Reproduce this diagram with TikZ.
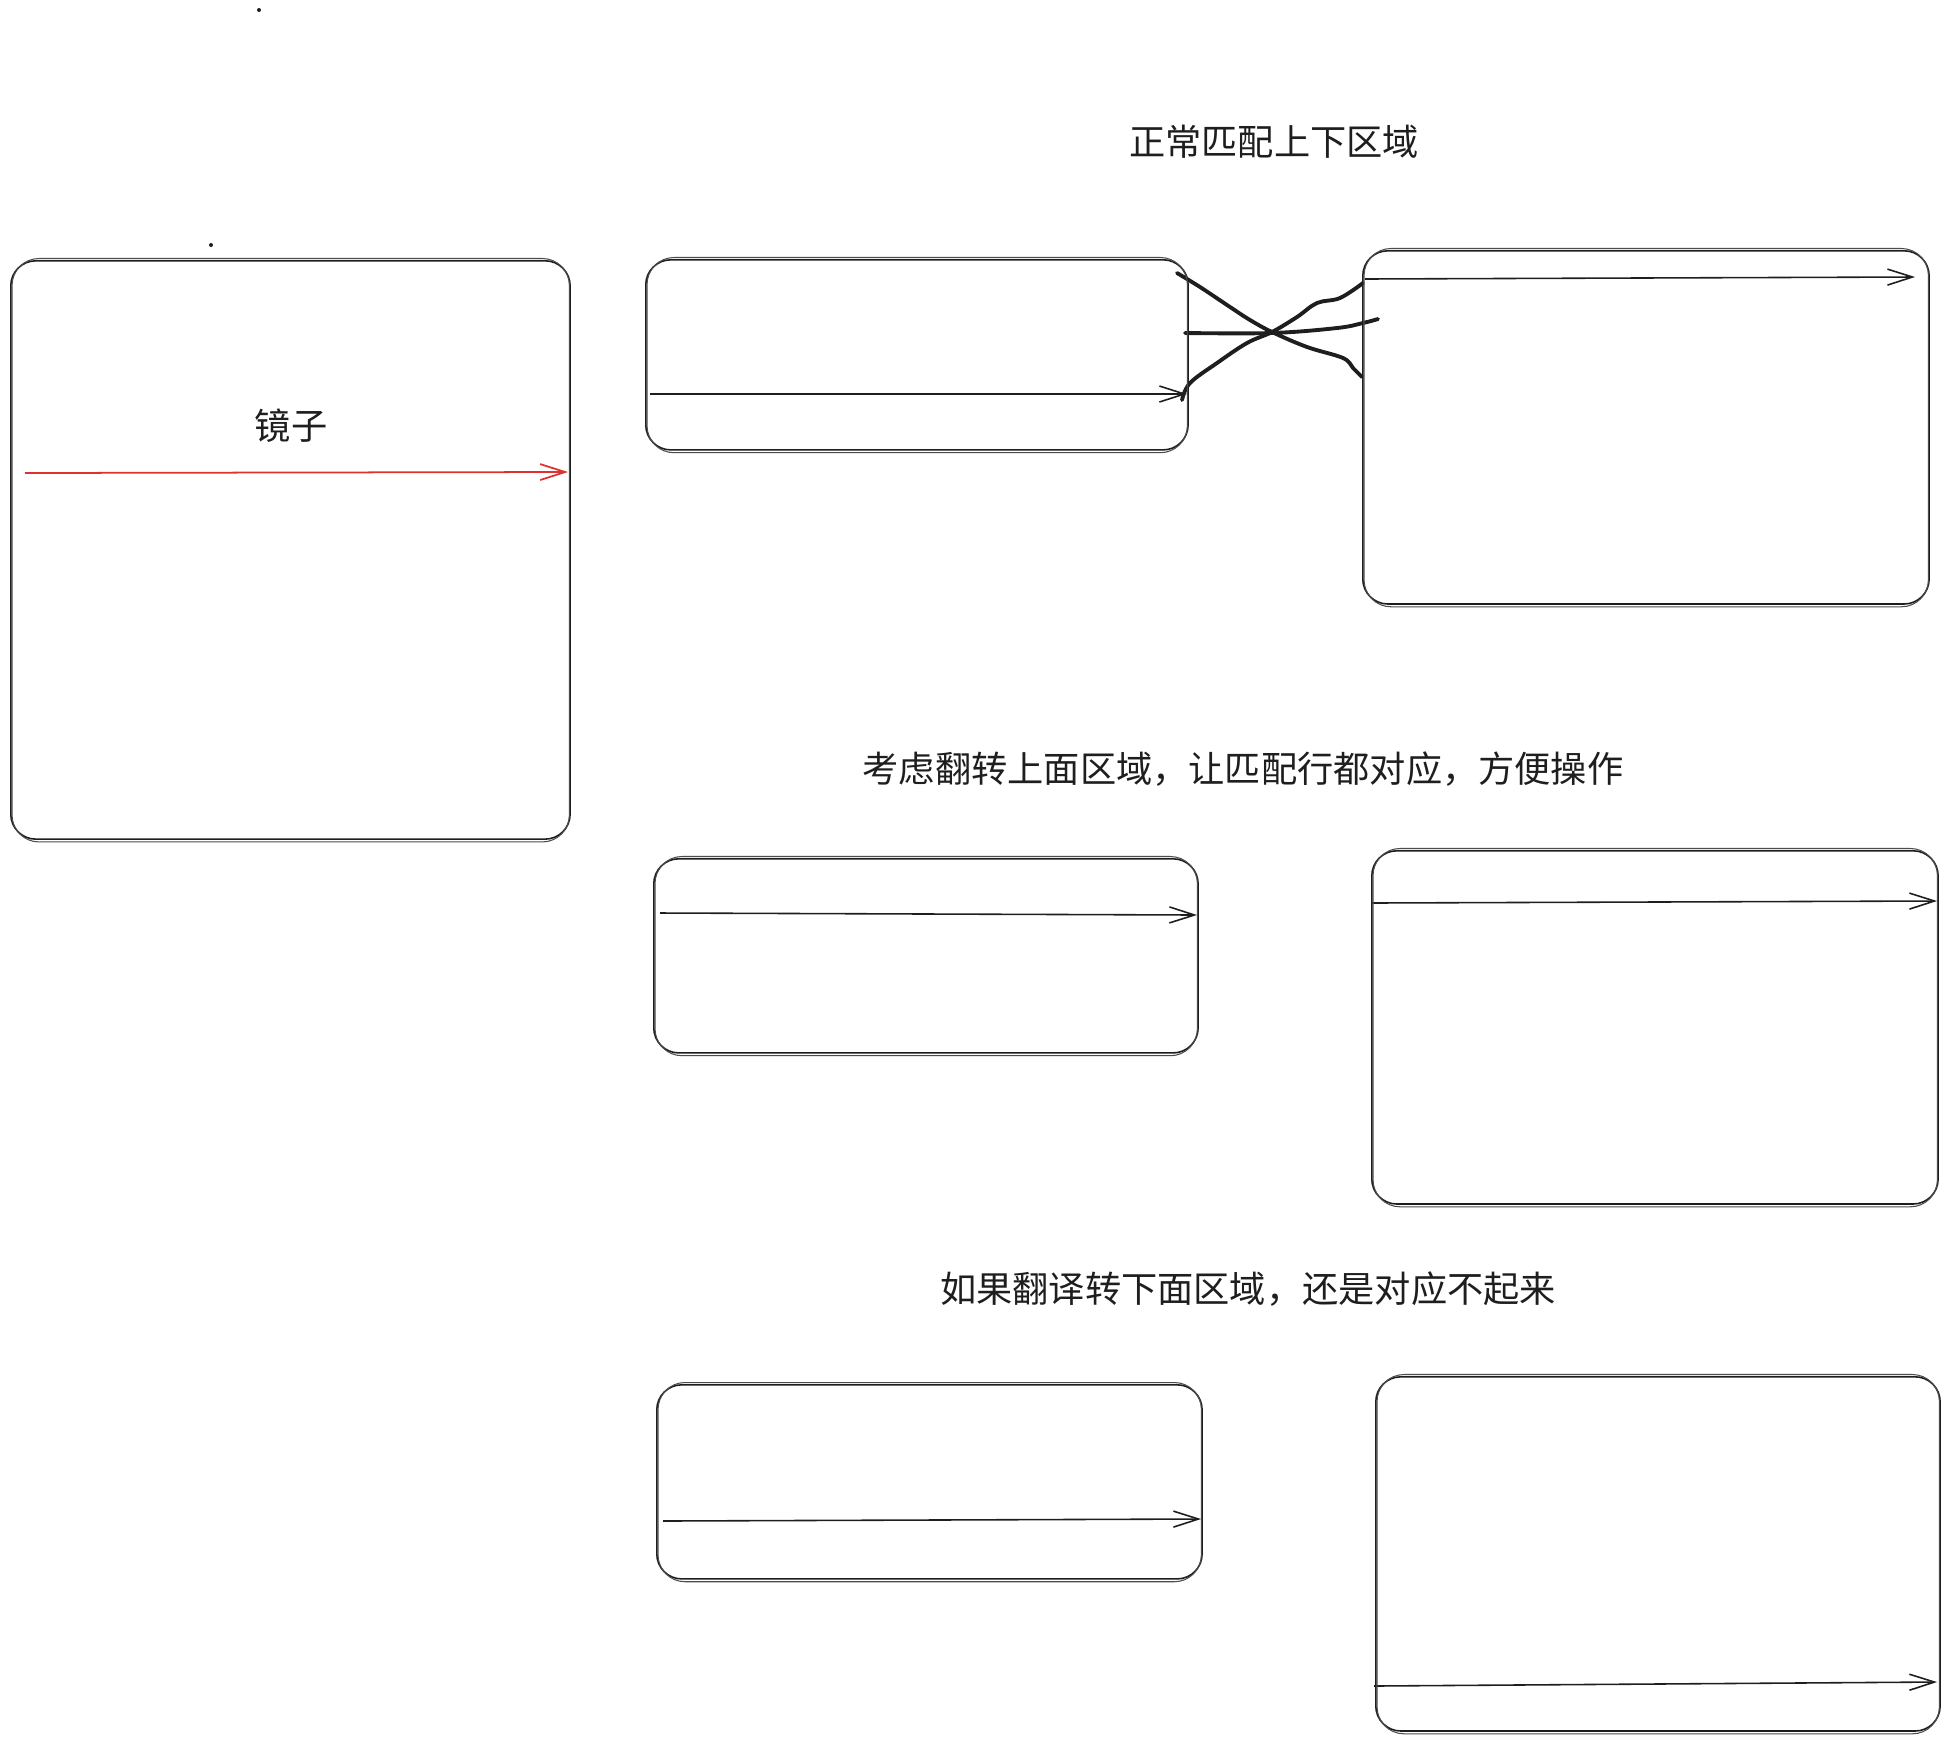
\documentclass[tikz,border=0pt]{standalone}
\usepackage{fontspec}
\newfontfamily\cjk{Noto Sans CJK SC}
\usetikzlibrary{arrows.meta}
\definecolor{ink}{HTML}{1E1E1E}
\definecolor{mirror}{HTML}{E03131}

\begin{document}
\begin{tikzpicture}[x=0.01cm, y=-0.01cm,
  box/.style={draw=ink, line width=0.45pt, rounded corners=0.25cm, inner sep=0pt, anchor=north west},
  ghost/.style={draw=ink!80, line width=0.3pt, rounded corners=0.27cm},
  ray/.style={ink, line width=0.45pt, -{Straight Barb[length=0.25cm, width=0.16cm]}},
  scribble/.style={ink, line width=1.1pt, line cap=round, line join=round},
  title/.style={text=ink, font=\cjk\fontsize{10.3}{12}\selectfont, inner sep=0pt}]
\useasboundingbox (0,0) rectangle (1949,1739);
% Mirror
\node[box, minimum width=5.59cm, minimum height=5.78cm] (M) at (10,260) {};
\node[title] (mlabel) at (291,426) {镜子};
\coordinate (m1) at (25,473);
\coordinate (m2) at (568,472);
\draw[ray, mirror, line width=0.5pt] (m1) -- (m2);
% stray dots
\fill[ink] (259,10) circle (2);
\fill[ink] (211,245) circle (2);

% Row 1: normal match of upper and lower regions
\node[title] (t1) at (1274,142) {正常匹配上下区域};
\node[box, minimum width=5.42cm, minimum height=1.90cm] (A) at (645,259) {};
\node[box, minimum width=5.66cm, minimum height=3.53cm] (B) at (1362,250) {};
\coordinate (a1) at (650,394);
\coordinate (a2) at (1187,394);
\coordinate (b1) at (1365,279);
\coordinate (b2) at (1915,277);
\draw[ray] (a1) -- (a2);
\draw[ray] (b1) -- (b2);
% crossed scribbles between A and B
\draw[scribble] plot[smooth, tension=0.6] coordinates
  {(1177,273) (1200,287) (1230,307) (1250,320) (1272,332) (1307,347) (1343,358) (1353,368) (1362,377)};
\draw[scribble] plot[smooth, tension=0.6] coordinates
  {(1182,400) (1190,383) (1217,363) (1247,343) (1272,332) (1297,317) (1317,303) (1340,298) (1363,283)};
\draw[scribble] plot[smooth, tension=0.6] coordinates
  {(1185,333) (1272,333) (1337,328) (1363,323) (1378,319)};

% Row 2: flip the upper region
\node[title] (t2) at (1243,769) {考虑翻转上面区域，让匹配行都对应，方便操作};
\node[box, minimum width=5.44cm, minimum height=1.94cm] (C) at (653,858) {};
\node[box, minimum width=5.66cm, minimum height=3.53cm] (D) at (1371,850) {};
\coordinate (c1) at (660,913);
\coordinate (c2) at (1197,915);
\coordinate (d1) at (1371,903);
\coordinate (d2) at (1937,901);
\draw[ray] (c1) -- (c2);
\draw[ray] (d1) -- (d2);

% Row 3: flip the lower region
\node[title] (t3) at (1248,1289) {如果翻译转下面区域，还是对应不起来};
\node[box, minimum width=5.45cm, minimum height=1.94cm] (E) at (656,1384) {};
\node[box, minimum width=5.64cm, minimum height=3.54cm] (F) at (1375,1376) {};
\coordinate (e1) at (663,1521);
\coordinate (e2) at (1201,1519);
\coordinate (f1) at (1374,1686);
\coordinate (f2) at (1937,1682);
\draw[ray] (e1) -- (e2);
\draw[ray] (f1) -- (f2);

% second pencil stroke on every box
\foreach \b in {M,A,B,C,D,E,F}
  \draw[ghost] ([shift={(2,-1.5)}]\b.north west) rectangle ([shift={(-1.5,2)}]\b.south east);
\end{tikzpicture}
\end{document}
